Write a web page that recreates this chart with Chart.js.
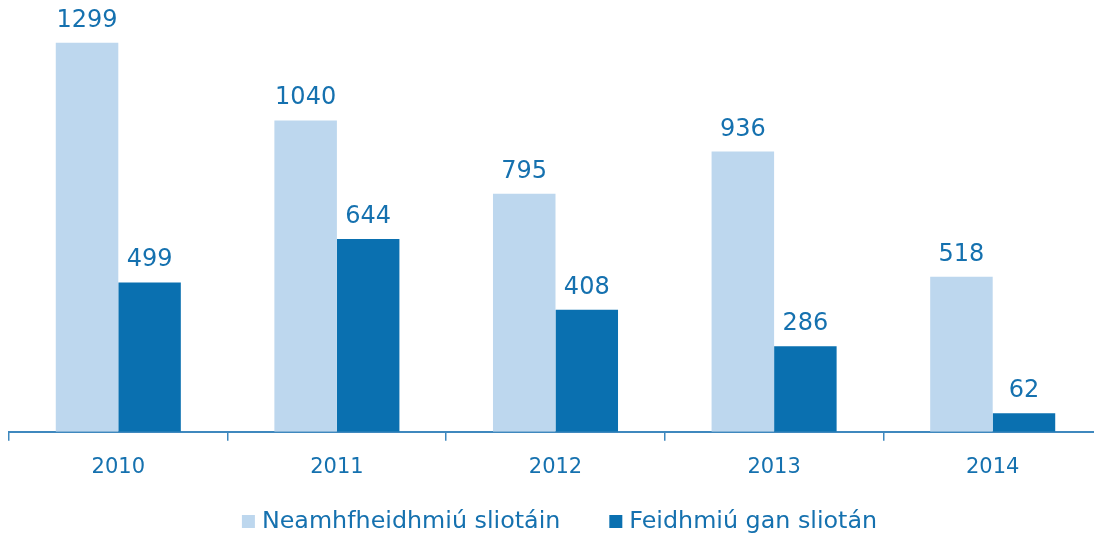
<!DOCTYPE html>
<html><head><meta charset="utf-8">
<script src="https://cdn.jsdelivr.net/npm/chart.js@4/dist/chart.umd.min.js"></script>
<style>html,body{margin:0;padding:0;background:#fff;overflow:hidden;width:1094px;height:538px}
#wrap{width:1102px;height:538px;position:relative}</style>
</head><body><div id="wrap"><canvas id="c"></canvas></div>
<script>
const categories = ["2010","2011","2012","2013","2014"];
const seriesNames = ["Neamhfheidhmiú sliotáin","Feidhmiú gan sliotán"];
const neamhfheidhmiu = [1299,1040,795,936,518];
const feidhmiu = [499,644,408,286,62];
const textColor = '#1571AF';
const FONT = '"DejaVu Sans", Verdana, sans-serif';
const labelPlugin = {
  id:'lbl',
  afterDatasetsDraw(chart){
    const ctx = chart.ctx;
    ctx.save();
    ctx.font = '24px ' + FONT;
    ctx.fillStyle = textColor;
    ctx.textAlign = 'center';
    ctx.textBaseline = 'alphabetic';
    chart.data.datasets.forEach((ds,i)=>{
      chart.getDatasetMeta(i).data.forEach((bar,j)=>{
        ctx.fillText(String(ds.data[j]), bar.x, bar.y-16);
      });
    });
    ctx.restore();
  }
};
const legendPlugin = {
  id:'lg',
  afterDraw(chart){
    const ctx = chart.ctx;
    ctx.save();
    ctx.font = '23.8px ' + FONT;
    const box = 13, gapText = 7, gapItem = 49;
    const items = chart.data.datasets.map(ds=>({t:ds.label,c:ds.backgroundColor,w:ctx.measureText(ds.label).width}));
    let total = 0;
    items.forEach((it,i)=>{ total += box+gapText+it.w + (i?gapItem:0); });
    let x = 559.5 - total/2;
    const cy = 521;
    ctx.textBaseline = 'middle';
    ctx.textAlign = 'left';
    items.forEach(it=>{
      ctx.fillStyle = it.c;
      ctx.fillRect(x, cy-6, box, box);
      ctx.fillStyle = textColor;
      ctx.fillText(it.t, x+box+gapText, cy+1);
      x += box+gapText+it.w+gapItem;
    });
    ctx.restore();
  }
};
new Chart(document.getElementById('c'),{
  type:'bar',
  data:{labels:categories,datasets:[
    {label:seriesNames[0],data:neamhfheidhmiu,backgroundColor:'#BDD7EE',barPercentage:1,categoryPercentage:0.572},
    {label:seriesNames[1],data:feidhmiu,backgroundColor:'#0A70B0',barPercentage:1,categoryPercentage:0.572}
  ]},
  options:{
    responsive:true,maintainAspectRatio:false,animation:false,
    layout:{padding:{left:9,right:0,top:0,bottom:44}},
    plugins:{tooltip:{enabled:false},legend:{display:false}},
    scales:{
      y:{display:false,min:0,max:1442},
      x:{
        border:{color:'#3F88BE',width:2},
        grid:{display:true,drawOnChartArea:false,drawTicks:true,tickLength:9,color:'#3F88BE',lineWidth:1.5,offset:true},
        ticks:{color:textColor,font:{size:21,family:FONT},padding:14}
      }
    }
  },
  plugins:[labelPlugin,legendPlugin]
});
</script></body></html>
